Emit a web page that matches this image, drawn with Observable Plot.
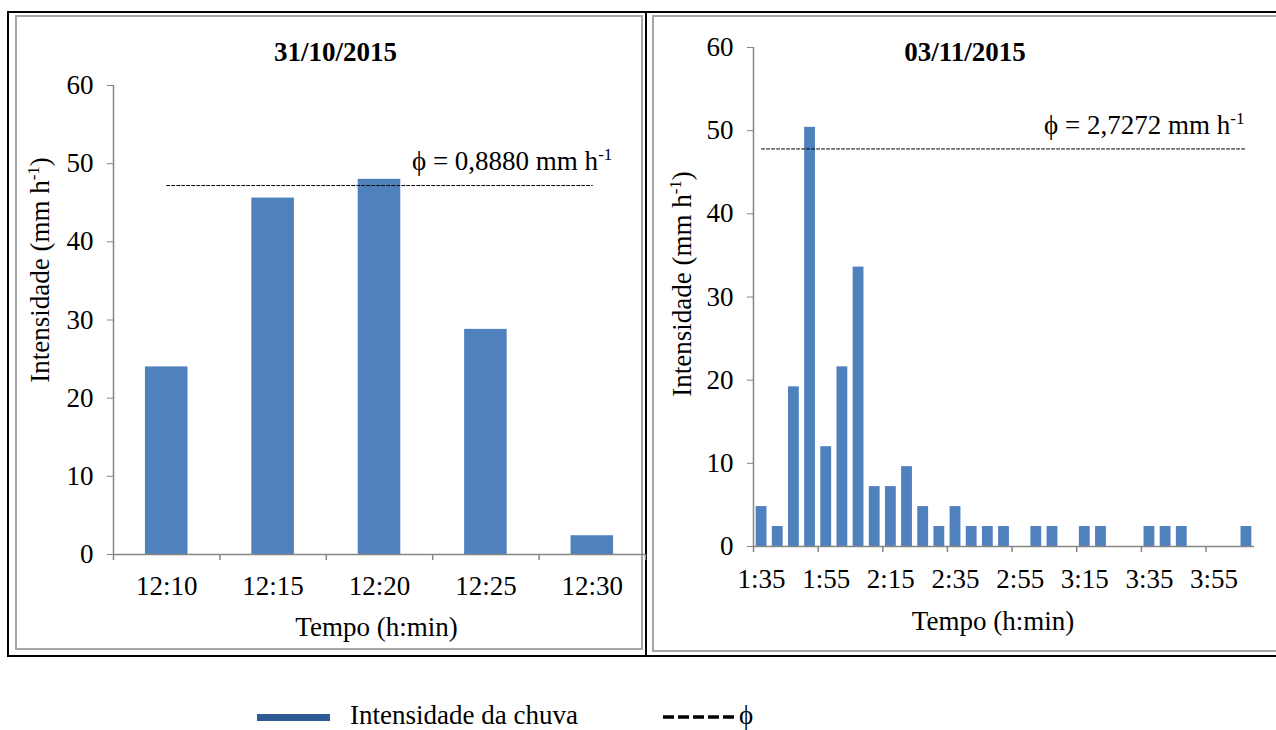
<!DOCTYPE html>
<html><head><meta charset="utf-8">
<script src="https://cdn.jsdelivr.net/npm/d3@7"></script>
<script src="https://cdn.jsdelivr.net/npm/@observablehq/plot@0.6"></script>
<style>
html,body{margin:0;padding:0;background:#fff;overflow:hidden;}
#page{position:relative;width:1276px;height:730px;overflow:hidden;font-family:"Liberation Serif","Times New Roman",serif;color:#000;}
.abs{position:absolute;box-sizing:border-box;}
#outer{left:7px;top:11px;width:1290px;height:646px;border:2px solid #000;}
#divider{left:645px;top:11px;width:2px;height:646px;background:#000;}
#box1{left:15px;top:15px;width:628px;height:635px;border:2px solid #a6a6a6;}
#box2{left:652px;top:15px;width:640px;height:637px;border:2px solid #a6a6a6;}
svg g[aria-label="y-axis tick"], svg g[aria-label="x-axis tick"]{stroke:#868686 !important;}
svg g[aria-label="y-axis"] .tick line, svg g[aria-label="x-axis"] .tick line{stroke:#868686 !important;}
svg g[aria-label="x-axis"] .domain, svg g[aria-label="y-axis"] .domain{display:none;}
#legend{left:0;top:700px;width:1276px;height:30px;font-size:27px;}
</style></head>
<body><div id="page">
<div id="outer" class="abs"></div>
<div id="divider" class="abs"></div>
<div id="box1" class="abs"></div>
<div id="box2" class="abs"></div>
<div id="c1" class="abs" style="left:17px;top:17px;"></div>
<div id="c2" class="abs" style="left:655px;top:17px;"></div>
<div id="legend" class="abs">
  <div class="abs" style="left:257px;top:14px;width:73px;height:7px;background:#2e5b93;"></div>
  <div class="abs" style="left:350px;top:1px;height:29px;line-height:29px;white-space:nowrap;" id="leg1"></div>
  <svg class="abs" style="left:663px;top:10px;" width="72" height="14"><line x1="0" y1="7" x2="72" y2="7" stroke="#000" stroke-width="3.5" stroke-dasharray="11,4"/></svg>
  <div class="abs" style="left:739px;top:1px;height:29px;line-height:29px;white-space:nowrap;" id="leg2"></div>
</div>
</div>
<script>
// ---- data ----
const cats1 = ["12:10", "12:15", "12:20", "12:25", "12:30"];
const vals1 = [24.0, 45.6, 48.0, 28.8, 2.4];
const phiLine1 = 47.2;
const title1 = "31/10/2015";
const phiText1 = "ϕ = 0,8880 mm h-1";

const cats2 = ["1:35", "1:40", "1:45", "1:50", "1:55", "2:00", "2:05", "2:10", "2:15", "2:20",
  "2:25", "2:30", "2:35", "2:40", "2:45", "2:50", "2:55", "3:00", "3:05", "3:10",
  "3:15", "3:20", "3:25", "3:30", "3:35", "3:40", "3:45", "3:50", "3:55", "4:00", "4:05"];
const vals2 = [4.8, 2.4, 19.2, 50.4, 12.0, 21.6, 33.6, 7.2, 7.2, 9.6,
  4.8, 2.4, 4.8, 2.4, 2.4, 2.4, 0, 2.4, 2.4, 0,
  2.4, 2.4, 0, 0, 2.4, 2.4, 2.4, 0, 0, 0, 2.4];
const phiLine2 = 47.8;
const title2 = "03/11/2015";
const phiText2 = "ϕ = 2,7272 mm h-1";

const yTicks = [0, 10, 20, 30, 40, 50, 60];
const xTitle = "Tempo (h:min)";
const yTitle = "Intensidade (mm h-1)";
const legendSeries = "Intensidade da chuva";
const legendPhi = "ϕ";

const barColor = "#4F81BD";
const axisGray = "#868686";
const FS = 27;

function superscript(svg) {
  const ns = "http://www.w3.org/2000/svg";
  const walker = document.createTreeWalker(svg, NodeFilter.SHOW_TEXT);
  const nodes = [];
  while (walker.nextNode()) nodes.push(walker.currentNode);
  for (const n of nodes) {
    const s = n.nodeValue;
    const k = s.indexOf("h-1");
    if (k < 0) continue;
    const parent = n.parentNode;
    const pre = document.createTextNode(s.slice(0, k + 1));
    const sup = document.createElementNS(ns, "tspan");
    sup.setAttribute("dy", "-10");
    sup.setAttribute("font-size", "17px");
    sup.textContent = "-1";
    const rest = document.createElementNS(ns, "tspan");
    rest.setAttribute("dy", "10");
    rest.textContent = s.slice(k + 3);
    parent.insertBefore(pre, n);
    parent.insertBefore(sup, n);
    parent.insertBefore(rest, n);
    parent.removeChild(n);
  }
}

function chart(o) {
  const data = o.cats.map((c, i) => ({c, v: o.vals[i]}));
  const step = (o.width - o.ml - o.mr) / o.cats.length;
  const tickCats = o.cats.filter((c, i) => i % o.tickEvery === 0);
  const labelSet = new Set(o.cats.filter((c, i) => i % o.labelEvery === 0));
  const last = o.cats[o.cats.length - 1];
  const phiData = [{c: o.cats[0], v: o.phi}, {c: last, v: o.phi}];
  const svg = Plot.plot({
    width: o.width, height: o.height,
    marginTop: o.mt, marginRight: o.mr, marginBottom: o.mb, marginLeft: o.ml,
    style: {background: "transparent", fontFamily: "'Liberation Serif', 'Times New Roman', serif", fontSize: FS + "px", color: "#000", maxWidth: "none", overflow: "visible"},
    x: {type: "band", domain: o.cats, paddingInner: o.pad, paddingOuter: o.pad / 2, round: false,
        label: null, tickSize: 0, tickPadding: o.xPad, tickFormat: d => labelSet.has(d) ? d : ""},
    y: {domain: [0, 60], ticks: yTicks, tickSize: 6, tickPadding: 14, label: null},
    marks: [
      Plot.barY(data, {x: "c", y: "v", fill: barColor}),
      Plot.ruleY([0], {stroke: axisGray, strokeWidth: 1.5}),
      Plot.ruleX([o.cats[0]], {dx: -step / 2, stroke: axisGray, strokeWidth: 1.5}),
      Plot.ruleX(tickCats, {x: d => d, dx: -step / 2, y1: 0, y2: 0, insetBottom: -6, stroke: axisGray, strokeWidth: 1.5}),
      ...(o.withEnd ? [Plot.ruleX([last], {dx: step / 2, y1: 0, y2: 0, insetBottom: -6, stroke: axisGray, strokeWidth: 1.5})] : []),
      Plot.lineY(phiData, {x: "c", y: "v", stroke: "#000", strokeWidth: 1, strokeDasharray: "3,2"}),
      Plot.text([{c: last, v: o.phi, t: o.phiText}], {x: "c", y: "v", text: "t", textAnchor: "end", dx: o.phiDx, dy: o.phiDy, fontSize: FS}),
      Plot.text([o.title], {frameAnchor: "top", lineAnchor: "middle", dx: o.titleDx, dy: o.titleDy, fontWeight: "bold", fontSize: FS}),
      Plot.text([xTitle], {frameAnchor: "bottom", lineAnchor: "middle", dx: o.xtDx, dy: o.xtDy, fontSize: FS}),
      Plot.text([yTitle], {frameAnchor: "left", textAnchor: "middle", lineAnchor: "middle", rotate: -90, dx: o.ytDx, dy: o.ytDy, fontSize: FS})
    ]
  });
  superscript(svg);
  return svg;
}

document.getElementById("c1").appendChild(chart({
  cats: cats1, vals: vals1, phi: phiLine1, title: title1, phiText: phiText1,
  width: 629, height: 630, mt: 68, mr: 1, mb: 93, ml: 96, pad: 0.6,
  tickEvery: 1, labelEvery: 1, withEnd: true, xPad: 21,
  phiDx: 20, phiDy: -24, titleDx: -44, titleDy: -33, xtDx: -3, xtDy: 73, ytDx: -73, ytDy: -50
}));
document.getElementById("c2").appendChild(chart({
  cats: cats2, vals: vals2, phi: phiLine2, title: title2, phiText: phiText2,
  width: 621, height: 630, mt: 30, mr: 22, mb: 101, ml: 98, pad: 0.33,
  tickEvery: 4, labelEvery: 4, withEnd: false, xPad: 22,
  phiDx: -2, phiDy: -24, titleDx: -39, titleDy: 5, xtDx: -11, xtDy: 75, ytDx: -71, ytDy: -13
}));
document.getElementById("leg1").textContent = legendSeries;
document.getElementById("leg2").textContent = legendPhi;
</script>
</body></html>
